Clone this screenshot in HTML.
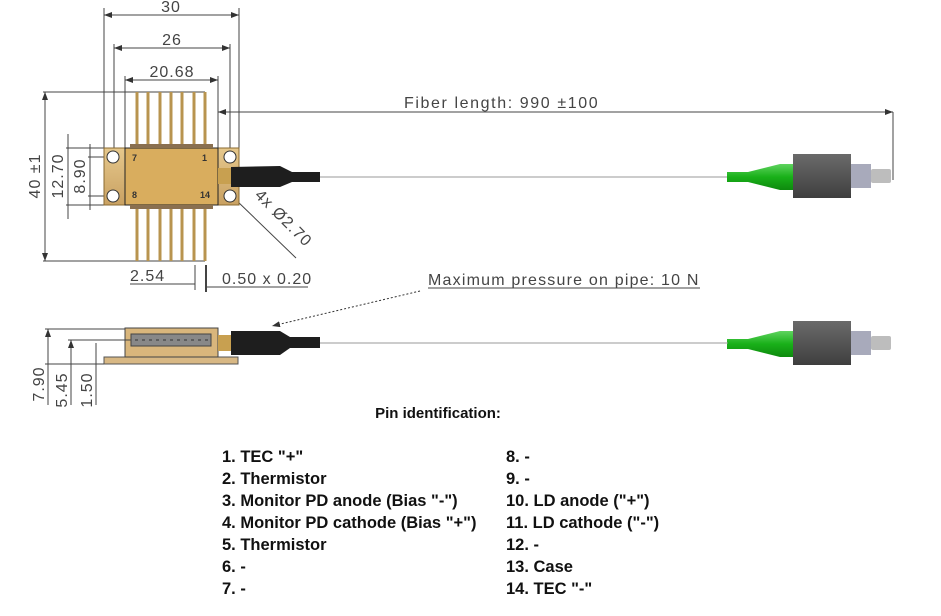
<!DOCTYPE html>
<html><head><meta charset="utf-8"><style>
html,body{margin:0;padding:0;background:#fff;}
svg{display:block;}
.dim{font-family:"Liberation Sans",sans-serif;font-size:16px;fill:#444;letter-spacing:1px;}
.b{font-family:"Liberation Sans",sans-serif;font-size:16.5px;font-weight:bold;fill:#111;}
</style></head><body>
<svg width="941" height="616" viewBox="0 0 941 616" xmlns="http://www.w3.org/2000/svg">
<defs>
<marker id="a" markerWidth="8" markerHeight="6" refX="8" refY="3" orient="auto-start-reverse"><path d="M0,0 L8,3 L0,6z" fill="#333"/></marker>
<linearGradient id="gold" x1="0" y1="0" x2="0" y2="1"><stop offset="0" stop-color="#e6c88c"/><stop offset="1" stop-color="#c9a162"/></linearGradient>
<linearGradient id="nut" x1="0" y1="0" x2="0" y2="1"><stop offset="0" stop-color="#6a6a6a"/><stop offset="0.5" stop-color="#555"/><stop offset="1" stop-color="#3e3e3e"/></linearGradient>
<linearGradient id="grn" x1="0" y1="0" x2="0" y2="1"><stop offset="0" stop-color="#5fd35f"/><stop offset="0.5" stop-color="#19b019"/><stop offset="1" stop-color="#0e8a0e"/></linearGradient>
</defs>
<g stroke="#444" stroke-width="1" fill="none">
<line x1="104" y1="8" x2="104" y2="150"/><line x1="239" y1="8" x2="239" y2="150"/>
<line x1="104" y1="15" x2="239" y2="15" marker-start="url(#a)" marker-end="url(#a)"/>
<line x1="114" y1="44" x2="114" y2="196"/><line x1="230" y1="44" x2="230" y2="157"/>
<line x1="114" y1="48" x2="230" y2="48" marker-start="url(#a)" marker-end="url(#a)"/>
<line x1="125" y1="76" x2="125" y2="150"/><line x1="218" y1="76" x2="218" y2="150"/>
<line x1="125" y1="80" x2="218" y2="80" marker-start="url(#a)" marker-end="url(#a)"/>
<line x1="43" y1="92" x2="205" y2="92"/><line x1="43" y1="261" x2="205" y2="261"/>
<line x1="45" y1="92" x2="45" y2="261" marker-start="url(#a)" marker-end="url(#a)"/>
<line x1="66" y1="148" x2="104" y2="148"/><line x1="66" y1="205" x2="104" y2="205"/>
<line x1="68" y1="134" x2="68" y2="219" />
<line x1="88" y1="157" x2="113" y2="157"/><line x1="88" y1="196" x2="113" y2="196"/>
<line x1="90" y1="144" x2="90" y2="210"/>
<line x1="218" y1="112" x2="893" y2="112" marker-start="url(#a)" marker-end="url(#a)"/>
<line x1="893" y1="112" x2="893" y2="180"/>
<line x1="195" y1="265" x2="195" y2="290"/><line x1="206" y1="265" x2="206" y2="292" stroke-width="2"/>
<line x1="130" y1="284" x2="195" y2="284"/><line x1="206" y1="287" x2="308" y2="287"/>
<line x1="236" y1="200" x2="296" y2="258"/>
</g>
<text class="dim" x="171" y="12" text-anchor="middle">30</text>
<text class="dim" x="172" y="45" text-anchor="middle">26</text>
<text class="dim" x="172" y="77" text-anchor="middle">20.68</text>
<text class="dim" transform="translate(40,176) rotate(-90)" text-anchor="middle">40 ±1</text>
<text class="dim" transform="translate(63,176) rotate(-90)" text-anchor="middle">12.70</text>
<text class="dim" transform="translate(85,176) rotate(-90)" text-anchor="middle">8.90</text>
<text class="dim" transform="translate(254,196) rotate(45)">4x Ø2.70</text>
<text class="dim" x="130" y="281">2.54</text>
<text class="dim" x="222" y="284">0.50 x 0.20</text>
<text class="dim" x="404" y="108" style="letter-spacing:1.6px">Fiber length: 990 ±100</text>
<text class="dim" x="428" y="285" style="letter-spacing:1.2px">Maximum pressure on pipe: 10 N</text>
<line x1="428" y1="288" x2="700" y2="288" stroke="#444"/>
<line x1="420" y1="291" x2="272" y2="326" stroke="#333" stroke-dasharray="2,2" marker-end="url(#a)"/>
<g stroke="#b8944f" stroke-width="3">
<line x1="137" y1="92" x2="137" y2="148"/><line x1="148" y1="92" x2="148" y2="148"/><line x1="160" y1="92" x2="160" y2="148"/><line x1="171" y1="92" x2="171" y2="148"/><line x1="182" y1="92" x2="182" y2="148"/><line x1="194" y1="92" x2="194" y2="148"/><line x1="205" y1="92" x2="205" y2="148"/>
<line x1="137" y1="205" x2="137" y2="261"/><line x1="148" y1="205" x2="148" y2="261"/><line x1="160" y1="205" x2="160" y2="261"/><line x1="171" y1="205" x2="171" y2="261"/><line x1="182" y1="205" x2="182" y2="261"/><line x1="194" y1="205" x2="194" y2="261"/><line x1="205" y1="205" x2="205" y2="261"/>
</g>
<rect x="104" y="148" width="135" height="57" fill="url(#gold)" stroke="#8a6a30"/>
<rect x="125" y="148" width="93" height="57" fill="#d9ad5e" stroke="#222"/>
<rect x="130" y="144" width="83" height="4" fill="#8a7050"/><rect x="130" y="205" width="83" height="4" fill="#8a7050"/>
<g fill="#fff" stroke="#333"><circle cx="113" cy="157" r="6"/><circle cx="113" cy="196" r="6"/><circle cx="230" cy="157" r="6"/><circle cx="230" cy="196" r="6"/></g>
<g font-family="Liberation Sans,sans-serif" font-size="9" font-weight="bold" fill="#333"><text x="132" y="161">7</text><text x="202" y="161">1</text><text x="132" y="198">8</text><text x="200" y="198">14</text></g>
<rect x="218" y="168" width="14" height="16" fill="#c8a050"/>
<path d="M231,167 L280,166 L292,172 L320,172 L320,182 L292,182 L280,187 L231,187 Z" fill="#1e1e1e"/>
<line x1="320" y1="177" x2="728" y2="177" stroke="#999"/>
<g id="con">
<path d="M727,172 L748,172 L780,164 L793,164 L793,190 L780,190 L748,182 L727,182Z" fill="url(#grn)"/>
<rect x="793" y="154" width="58" height="44" fill="url(#nut)"/>
<rect x="851" y="164" width="20" height="24" fill="#a8aabb"/>
<rect x="871" y="169" width="20" height="14" fill="#bdbdbd" rx="2"/>
</g>
<use href="#con" transform="translate(0,167)"/>
<rect x="104" y="357" width="134" height="7" fill="#d8b884" stroke="#555"/>
<rect x="125" y="328" width="93" height="29" fill="#d9b67c" stroke="#444"/>
<rect x="131" y="334" width="80" height="12" fill="#888" stroke="#444"/>
<line x1="135" y1="340" x2="208" y2="340" stroke="#333" stroke-dasharray="3,4"/>
<rect x="218" y="335" width="14" height="16" fill="#c8a050"/>
<path d="M231,331 L280,331 L290,337 L320,337 L320,348 L290,348 L280,355 L231,355 Z" fill="#1e1e1e"/>
<line x1="320" y1="343" x2="728" y2="343" stroke="#999"/>
<g stroke="#444" fill="none">
<line x1="45" y1="329" x2="125" y2="329"/><line x1="45" y1="364" x2="104" y2="364"/>
<line x1="68" y1="340" x2="131" y2="340"/>
<line x1="48" y1="329" x2="48" y2="405" marker-start="url(#a)"/>
<line x1="71" y1="340" x2="71" y2="405" marker-start="url(#a)"/>
<line x1="96" y1="343" x2="96" y2="405"/>
</g>
<text class="dim" transform="translate(44,384) rotate(-90)" text-anchor="middle">7.90</text>
<text class="dim" transform="translate(67,390) rotate(-90)" text-anchor="middle">5.45</text>
<text class="dim" transform="translate(92,390) rotate(-90)" text-anchor="middle">1.50</text>
<text class="b" x="438" y="418" text-anchor="middle" style="font-size:15px">Pin identification:</text>
<text class="b" x="222" y="462">1. TEC "+"</text>
<text class="b" x="222" y="484">2. Thermistor</text>
<text class="b" x="222" y="506">3. Monitor PD anode (Bias "-")</text>
<text class="b" x="222" y="528">4. Monitor PD cathode (Bias "+")</text>
<text class="b" x="222" y="550">5. Thermistor</text>
<text class="b" x="222" y="572">6. -</text>
<text class="b" x="222" y="594">7. -</text>
<text class="b" x="506" y="462">8. -</text>
<text class="b" x="506" y="484">9. -</text>
<text class="b" x="506" y="506">10. LD anode ("+")</text>
<text class="b" x="506" y="528">11. LD cathode ("-")</text>
<text class="b" x="506" y="550">12. -</text>
<text class="b" x="506" y="572">13. Case</text>
<text class="b" x="506" y="594">14. TEC "-"</text>
</svg>
</body></html>
